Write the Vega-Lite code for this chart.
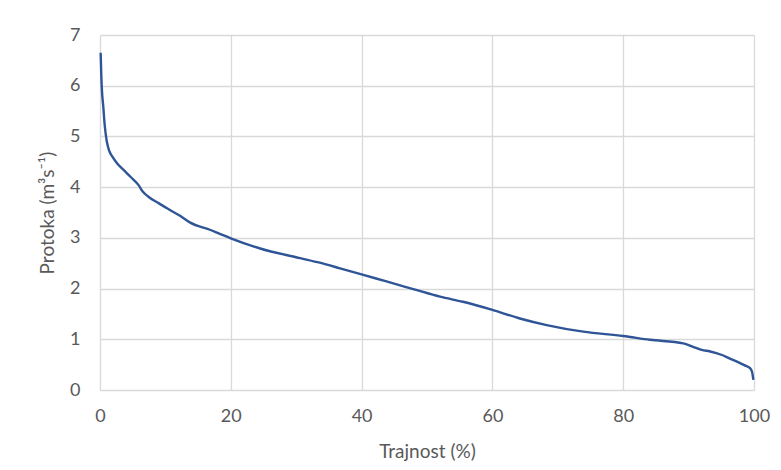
{
  "$schema": "https://vega.github.io/schema/vega-lite/v6.json",
  "width": 654,
  "height": 355,
  "autosize": "none",
  "padding": {"left": 100, "top": 35, "right": 27, "bottom": 80},
  "background": "white",
  "config": {
    "view": {"stroke": null},
    "font": "Lato",
    "axis": {
      "labelFont": "Lato",
      "titleFont": "Lato",
      "labelColor": "#595959",
      "titleColor": "#595959",
      "labelFontSize": 18,
      "titleFontSize": 19,
      "titleFontWeight": "normal",
      "gridColor": "#d9d9d9",
      "gridWidth": 1.3,
      "domain": false,
      "ticks": false,
      "labelFlush": false
    }
  },
  "data": {
    "values": [
      {"t": 0.1, "q": 6.65},
      {"t": 0.2, "q": 6.2},
      {"t": 0.3, "q": 5.9},
      {"t": 0.5, "q": 5.59},
      {"t": 0.7, "q": 5.25},
      {"t": 1.0, "q": 4.93},
      {"t": 1.4, "q": 4.72},
      {"t": 1.9, "q": 4.6},
      {"t": 2.6, "q": 4.47},
      {"t": 3.6, "q": 4.34},
      {"t": 4.7, "q": 4.2},
      {"t": 5.9, "q": 4.04},
      {"t": 6.5, "q": 3.92},
      {"t": 7.4, "q": 3.81},
      {"t": 9.0, "q": 3.68},
      {"t": 10.7, "q": 3.55},
      {"t": 12.3, "q": 3.43},
      {"t": 13.8, "q": 3.3},
      {"t": 16.8, "q": 3.16},
      {"t": 18.3, "q": 3.08},
      {"t": 20, "q": 2.99},
      {"t": 24.5, "q": 2.79},
      {"t": 30.6, "q": 2.6},
      {"t": 33.6, "q": 2.51},
      {"t": 36.7, "q": 2.4},
      {"t": 40, "q": 2.28},
      {"t": 43.8, "q": 2.14},
      {"t": 47.9, "q": 1.99},
      {"t": 52, "q": 1.84},
      {"t": 55.5, "q": 1.74},
      {"t": 60, "q": 1.58},
      {"t": 64.2, "q": 1.41},
      {"t": 68.3, "q": 1.28},
      {"t": 73.9, "q": 1.15},
      {"t": 80, "q": 1.065},
      {"t": 84.1, "q": 0.99},
      {"t": 89.2, "q": 0.92},
      {"t": 90.7, "q": 0.85},
      {"t": 92, "q": 0.79},
      {"t": 93.3, "q": 0.76},
      {"t": 95.1, "q": 0.69},
      {"t": 96.3, "q": 0.62},
      {"t": 97.4, "q": 0.56},
      {"t": 98.5, "q": 0.49},
      {"t": 99.4, "q": 0.43},
      {"t": 99.7, "q": 0.36},
      {"t": 99.9, "q": 0.2}
    ]
  },
  "mark": {"type": "line", "color": "#2F5597", "strokeWidth": 2.4, "interpolate": "monotone"},
  "encoding": {
    "x": {
      "field": "t",
      "type": "quantitative",
      "scale": {"domain": [0, 100], "nice": false},
      "axis": {"values": [0, 20, 40, 60, 80, 100], "title": "Trajnost (%)", "labelPadding": 17, "titlePadding": 17}
    },
    "y": {
      "field": "q",
      "type": "quantitative",
      "scale": {"domain": [0, 7], "nice": false},
      "axis": {"values": [0, 1, 2, 3, 4, 5, 6, 7], "title": "Protoka (m³s⁻¹)", "labelPadding": 20, "titlePadding": 12}
    }
  }
}
